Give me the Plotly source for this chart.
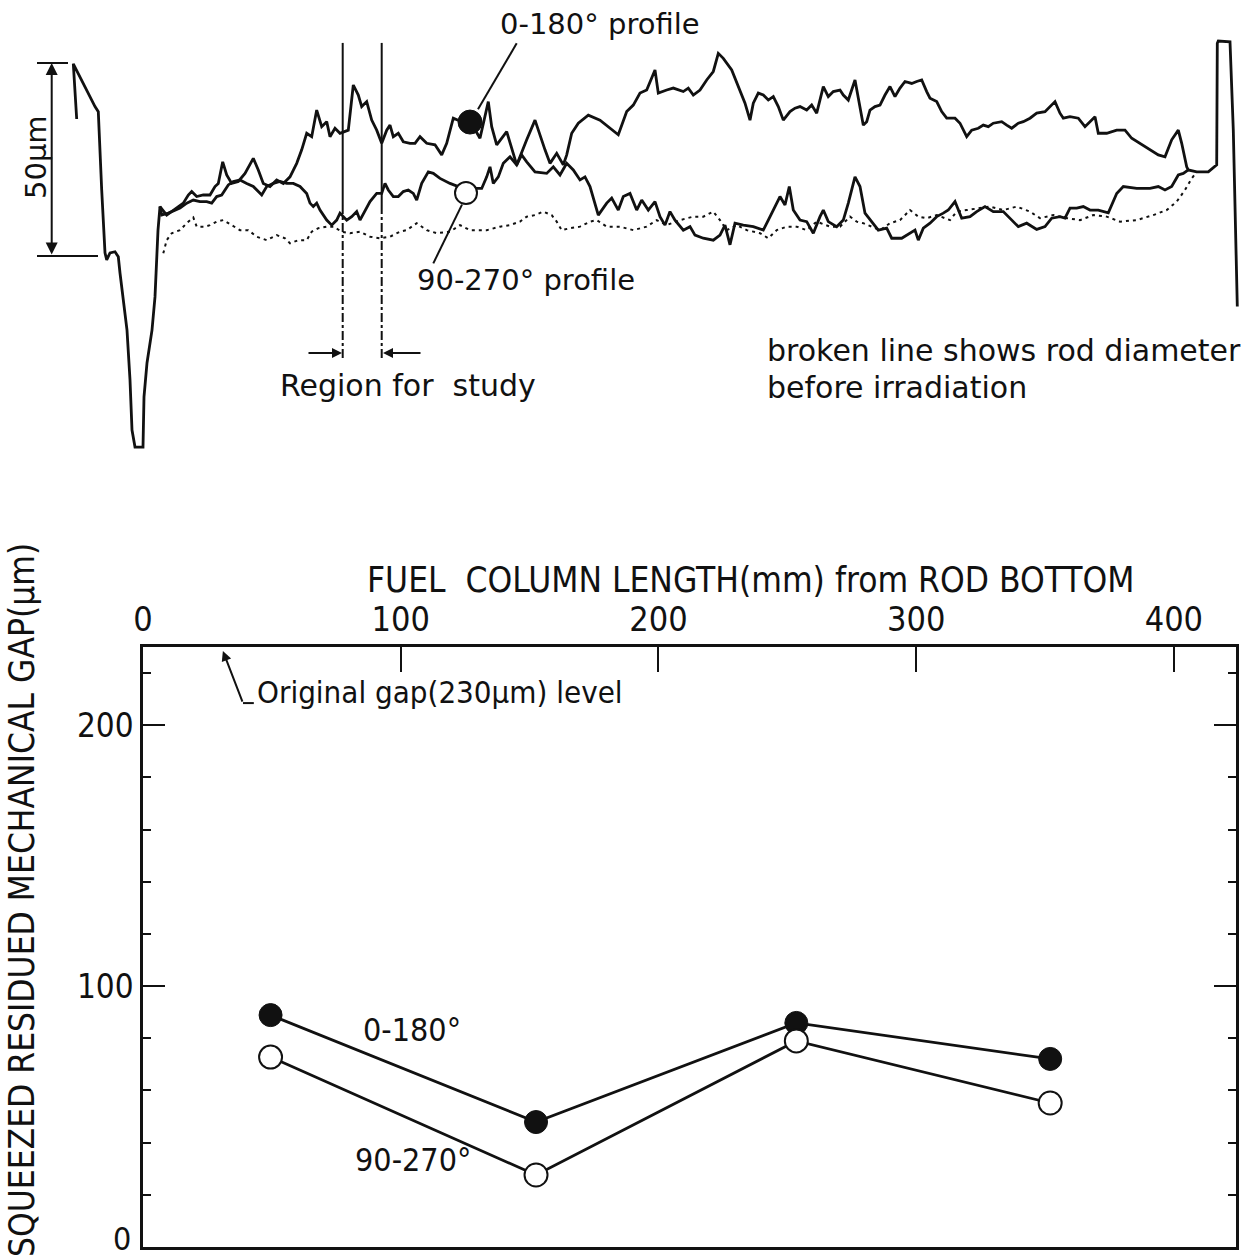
import plotly.graph_objects as go

W, H = 1252, 1259

# ---------------- lower chart data ----------------
position_mm = [49.5, 152.5, 253.5, 352.0]
gap_0_180 = [88.9, 47.9, 85.9, 72.1]
gap_90_270 = [72.8, 27.6, 79.0, 55.2]
x_ticks = [0, 100, 200, 300, 400]
y_ticks = [0, 100, 200]
y_tick_text = ["", "100", "200"]
y_minor = [20, 40, 60, 80, 120, 140, 160, 180, 220]
original_gap = 230

# ---------------- upper profile data (position, diameter change in um) ----------------
prof_0_180_pos = [
    76.7, 73.3, 95.0, 98.3, 101.7, 105.0, 106.7, 110.0, 115.0, 118.3,
    120.0, 127.0, 130.0, 132.0, 135.0, 143.0, 144.0, 147.0, 152.0, 155.0,
    158.0, 160.0, 166.7, 173.3, 183.3, 188.3, 191.7, 196.7, 203.3, 210.0,
    215.0, 218.3, 222.7, 226.7, 231.7, 238.3, 245.0, 253.3, 258.3, 263.3,
    270.0, 276.7, 283.3, 290.0, 296.7, 301.7, 306.7, 311.7, 316.7, 321.7,
    326.7, 330.0, 335.0, 340.0, 348.3, 353.3, 358.3, 361.7, 366.7, 371.7,
    376.7, 381.7, 386.7, 390.0, 393.3, 398.3, 403.3, 410.0, 415.0, 420.0,
    426.7, 435.0, 441.7, 446.7, 453.3, 461.7, 473.3, 480.0, 485.0, 488.3,
    491.7, 496.7, 506.7, 516.7, 526.7, 535.0, 545.0, 550.0, 556.7, 563.3,
    566.7, 571.7, 578.3, 588.3, 600.0, 618.3, 626.7, 633.3, 640.0, 646.7,
    655.0, 658.3, 666.7, 673.3, 683.3, 688.3, 693.3, 700.0, 706.7, 713.3,
    718.3, 723.3, 731.7, 740.0, 745.0, 750.0, 753.3, 758.3, 763.3, 768.3,
    773.3, 778.3, 783.3, 790.0, 795.0, 800.0, 806.7, 811.7, 816.7, 823.3,
    828.3, 833.3, 840.0, 843.3, 848.3, 855.0, 860.0, 863.3, 866.7, 870.0,
    875.0, 880.0, 885.0, 890.0, 895.0, 900.0, 905.0, 911.7, 916.7, 921.7,
    926.7, 930.0, 936.7, 941.7, 946.7, 955.0, 960.0, 966.7, 971.7, 978.3,
    983.3, 988.3, 993.3, 1001.7, 1006.7, 1011.7, 1018.3, 1023.3, 1030.0, 1036.7,
    1045.0, 1050.0, 1055.0, 1060.0, 1063.3, 1070.0, 1078.3, 1085.0, 1090.0, 1095.0,
    1098.3, 1106.7, 1116.7, 1125.0, 1131.7, 1141.7, 1150.0, 1158.3, 1165.0, 1171.7,
    1178.3, 1181.7, 1186.7, 1188.3, 1196.7, 1208.3, 1216.7, 1217.3, 1218.3, 1230.0,
    1233.3, 1237.3,
]
prof_0_180_um = [
    35.5, 49.8, 38.7, 37.4, 17.1, 0.8, -1.0, 0.8, 1.1, -0.2,
    -4.4, -19.2, -32.1, -45.1, -49.5, -49.5, -36.5, -27.7, -19.2, -10.6,
    6.7, 12.8, 10.6, 11.9, 13.7, 15.8, 16.7, 15.4, 15.8, 15.8,
    18.0, 18.8, 24.4, 21.0, 18.8, 19.3, 21.4, 25.3, 22.3, 18.8,
    18.0, 19.7, 18.8, 20.5, 24.0, 27.5, 31.8, 30.9, 37.8, 33.5,
    34.8, 30.9, 33.1, 31.8, 32.6, 44.3, 41.7, 38.7, 40.0, 35.2,
    32.6, 29.2, 32.6, 33.9, 30.9, 31.8, 29.6, 29.2, 29.2, 30.9,
    29.2, 28.8, 26.2, 29.2, 35.7, 34.8, 33.5, 30.5, 36.1, 40.0,
    33.5, 28.8, 32.2, 23.6, 30.1, 35.2, 27.5, 24.0, 26.6, 23.6,
    26.2, 31.8, 34.4, 36.5, 35.2, 31.4, 37.4, 39.1, 42.2, 43.0,
    48.2, 42.2, 43.0, 43.5, 42.6, 43.5, 41.7, 43.0, 45.6, 47.8,
    52.5, 51.2, 48.2, 43.0, 39.6, 35.2, 39.6, 42.2, 41.7, 40.4,
    41.3, 38.7, 35.2, 37.4, 38.3, 38.7, 37.8, 39.1, 37.0, 43.9,
    41.3, 42.6, 43.0, 41.7, 40.4, 45.6, 38.7, 33.9, 34.8, 37.8,
    38.7, 39.1, 41.7, 43.9, 41.3, 43.5, 45.2, 44.7, 45.2, 45.6,
    42.6, 40.9, 40.0, 37.4, 35.7, 35.7, 34.4, 30.9, 32.6, 33.1,
    33.9, 33.5, 34.4, 34.8, 33.9, 33.1, 34.4, 34.8, 35.7, 37.0,
    37.4, 38.7, 40.0, 37.0, 35.7, 36.1, 35.7, 33.5, 34.8, 36.1,
    31.8, 31.8, 32.6, 32.6, 30.5, 28.8, 27.5, 26.2, 25.7, 30.1,
    32.6, 29.2, 23.1, 22.3, 21.8, 21.8, 23.6, 55.1, 55.7, 55.5,
    32.6, -13.1,
]

prof_90_270_pos = [
    160.0, 161.7, 168.3, 175.0, 180.0, 186.7, 193.3, 200.0, 206.7, 211.7,
    216.7, 221.7, 225.0, 228.3, 233.3, 240.0, 246.7, 253.3, 258.3, 261.7,
    266.7, 273.3, 280.0, 286.7, 293.3, 300.0, 306.7, 310.0, 313.3, 316.7,
    320.0, 326.7, 331.7, 336.7, 340.0, 343.3, 346.7, 351.7, 356.7, 360.0,
    365.0, 370.0, 376.7, 381.7, 385.0, 388.3, 393.3, 398.3, 403.3, 408.3,
    413.3, 416.7, 421.7, 428.3, 433.3, 440.0, 450.0, 458.3, 470.0, 481.7,
    486.7, 490.0, 493.3, 498.3, 503.3, 510.0, 516.7, 521.7, 526.7, 535.0,
    546.7, 553.3, 560.0, 566.7, 573.3, 580.0, 585.0, 590.0, 598.3, 606.7,
    611.7, 618.3, 623.3, 630.0, 636.7, 641.7, 648.3, 655.0, 660.0, 665.0,
    670.0, 675.0, 683.3, 690.0, 695.0, 703.3, 713.3, 720.0, 725.0, 730.0,
    735.0, 743.3, 753.3, 763.3, 768.3, 775.0, 780.0, 785.0, 789.3, 793.3,
    800.0, 806.7, 813.3, 820.0, 823.3, 828.3, 836.7, 843.3, 848.3, 855.0,
    860.0, 865.0, 871.7, 878.3, 886.7, 891.7, 901.7, 910.0, 915.0, 918.3,
    923.3, 930.0, 936.7, 943.3, 948.3, 955.0, 961.7, 970.0, 976.7, 985.0,
    993.3, 1003.3, 1011.7, 1018.3, 1026.7, 1036.7, 1045.0, 1051.7, 1060.0, 1065.0,
    1070.0, 1076.7, 1083.3, 1090.0, 1098.3, 1108.3, 1116.7, 1123.3, 1136.7, 1150.0,
    1158.3, 1165.0, 1171.7, 1178.3, 1183.3, 1188.3,
]
prof_90_270_um = [
    12.8, 10.6, 11.1, 11.9, 12.4, 13.7, 14.5, 14.1, 14.1, 13.7,
    15.4, 15.8, 17.1, 18.4, 19.3, 19.7, 18.8, 18.0, 16.7, 15.8,
    18.0, 18.8, 19.3, 18.8, 18.8, 18.0, 16.2, 13.7, 12.8, 13.7,
    11.9, 9.3, 8.0, 9.3, 11.1, 10.2, 9.3, 10.2, 11.5, 9.3,
    11.9, 14.1, 16.2, 16.2, 18.8, 17.1, 15.4, 15.4, 16.7, 17.1,
    16.2, 14.5, 18.8, 21.8, 21.4, 20.1, 18.8, 18.0, 17.5, 17.5,
    20.5, 23.1, 18.8, 20.5, 24.0, 25.7, 23.6, 26.2, 24.4, 21.8,
    21.4, 23.1, 21.0, 24.0, 22.3, 19.7, 20.5, 18.0, 10.6, 13.7,
    15.0, 11.9, 15.4, 16.2, 11.9, 14.5, 11.9, 14.1, 10.2, 8.0,
    11.5, 9.3, 6.7, 7.6, 5.4, 4.6, 4.1, 5.4, 8.0, 2.9,
    8.5, 8.0, 7.6, 6.7, 9.3, 12.8, 15.4, 13.2, 18.0, 11.9,
    9.3, 8.9, 5.9, 10.2, 11.9, 8.9, 7.6, 9.3, 13.7, 20.5,
    18.0, 11.1, 8.9, 6.7, 7.2, 4.6, 4.6, 5.9, 6.7, 4.1,
    7.2, 8.5, 10.2, 11.1, 11.9, 14.1, 9.8, 10.2, 11.5, 12.8,
    11.5, 11.5, 9.3, 7.6, 8.5, 6.9, 7.6, 9.8, 10.2, 9.8,
    12.4, 12.4, 12.8, 11.9, 11.9, 11.2, 16.2, 18.0, 17.5, 17.5,
    18.0, 17.1, 18.0, 21.0, 21.4, 22.3,
]

prof_before_pos = [
    163.3, 166.7, 171.7, 180.0, 186.7, 193.3, 196.7, 205.0, 210.0, 216.7,
    223.3, 231.7, 240.0, 248.3, 256.7, 266.7, 276.7, 285.0, 290.0, 298.3,
    306.7, 311.7, 318.3, 326.7, 333.3, 341.7, 350.0, 360.0, 370.0, 380.0,
    390.0, 400.0, 406.7, 416.7, 426.7, 436.7, 450.0, 460.0, 470.0, 486.7,
    500.0, 510.0, 520.0, 526.7, 535.0, 543.3, 551.7, 556.7, 561.7, 570.0,
    580.0, 590.0, 596.7, 606.7, 620.0, 633.3, 646.7, 656.7, 666.7, 680.0,
    693.3, 703.3, 713.3, 720.0, 726.7, 736.7, 746.7, 760.0, 768.3, 776.7,
    786.7, 796.7, 806.7, 816.7, 830.0, 840.0, 850.0, 856.7, 863.3, 871.7,
    880.0, 890.0, 900.0, 910.0, 918.3, 926.7, 936.7, 950.0, 956.7, 966.7,
    980.0, 990.0, 1003.3, 1016.7, 1030.0, 1040.0, 1053.3, 1066.7, 1080.0, 1093.3,
    1106.7, 1120.0, 1136.7, 1153.3, 1166.7, 1176.7, 1185.0, 1191.7, 1196.7,
]
prof_before_um = [
    0.7, 4.1, 5.9, 6.7, 8.5, 10.0, 7.6, 7.6, 8.0, 8.9,
    9.3, 8.0, 6.7, 6.7, 5.0, 4.1, 5.4, 4.6, 3.3, 4.1,
    4.1, 6.3, 7.2, 7.6, 7.6, 6.3, 5.9, 6.3, 5.0, 4.6,
    5.0, 6.3, 6.7, 8.5, 6.7, 5.9, 6.3, 8.0, 6.7, 6.7,
    7.6, 8.0, 8.9, 10.2, 10.6, 11.5, 10.6, 8.9, 6.7, 7.2,
    7.6, 8.9, 9.3, 7.6, 7.6, 6.7, 7.6, 9.3, 8.0, 9.3,
    10.2, 10.2, 11.5, 9.3, 6.7, 8.0, 6.7, 5.9, 4.6, 6.7,
    7.6, 7.6, 6.7, 8.9, 7.6, 7.6, 10.2, 8.9, 8.5, 7.6,
    6.7, 8.5, 9.3, 11.9, 10.2, 9.8, 10.6, 9.3, 11.5, 11.9,
    12.4, 12.8, 11.9, 12.8, 11.5, 9.8, 10.6, 9.8, 9.3, 10.6,
    10.2, 8.9, 9.3, 10.6, 11.9, 14.1, 17.1, 20.1, 21.8,
]

# legend-marker positions on the profiles
marker_0_180 = (470.0, 34.7)
marker_90_270 = (466.0, 16.3)

FONT = "DejaVu Sans Condensed, DejaVu Sans, sans-serif"
FONT_UP = "DejaVu Sans, sans-serif"
BLACK = "#111111"


def px(x):
    return x / W


def py(y):
    return 1 - y / H


fig = go.Figure()

# ---- upper panel traces ----
fig.add_trace(go.Scatter(x=prof_before_pos, y=prof_before_um, mode="lines",
                         line=dict(color=BLACK, width=2, dash="3px,4px"),
                         xaxis="x2", yaxis="y2", hoverinfo="skip"))
fig.add_trace(go.Scatter(x=prof_90_270_pos, y=prof_90_270_um, mode="lines",
                         line=dict(color=BLACK, width=2.8),
                         xaxis="x2", yaxis="y2", hoverinfo="skip"))
fig.add_trace(go.Scatter(x=prof_0_180_pos, y=prof_0_180_um, mode="lines",
                         line=dict(color=BLACK, width=2.8),
                         xaxis="x2", yaxis="y2", hoverinfo="skip"))
fig.add_trace(go.Scatter(x=[marker_0_180[0]], y=[marker_0_180[1]], mode="markers",
                         marker=dict(size=24, color=BLACK, line=dict(color=BLACK, width=1)),
                         xaxis="x2", yaxis="y2", hoverinfo="skip"))
fig.add_trace(go.Scatter(x=[marker_90_270[0]], y=[marker_90_270[1]], mode="markers",
                         marker=dict(size=22, color="white", line=dict(color=BLACK, width=2)),
                         xaxis="x2", yaxis="y2", hoverinfo="skip"))

# ---- lower panel traces ----
fig.add_trace(go.Scatter(x=position_mm, y=gap_0_180, mode="lines+markers",
                         line=dict(color=BLACK, width=2.8),
                         marker=dict(size=23, color=BLACK, line=dict(color=BLACK, width=1)),
                         xaxis="x", yaxis="y", hoverinfo="skip"))
fig.add_trace(go.Scatter(x=position_mm, y=gap_90_270, mode="lines+markers",
                         line=dict(color=BLACK, width=2.8),
                         marker=dict(size=23, color="white", line=dict(color=BLACK, width=2)),
                         xaxis="x", yaxis="y", hoverinfo="skip"))

shapes = []
ln = dict(color=BLACK, width=2)
# region-for-study vertical lines
for xr in (342.7, 381.7):
    shapes.append(dict(type="line", xref="x2", yref="y2", x0=xr, x1=xr, y0=55.2, y1=13.2, line=ln))
    shapes.append(dict(type="line", xref="x2", yref="y2", x0=xr, x1=xr, y0=13.2, y1=-26.9,
                       line=dict(color=BLACK, width=2, dash="dashdot")))
# leader lines
shapes.append(dict(type="line", xref="x2", yref="y2", x0=516.7, y0=55.1, x1=478.0, y1=38.0, line=ln))
shapes.append(dict(type="line", xref="x2", yref="y2", x0=462.0, y0=13.3, x1=433.3, y1=-1.9, line=ln))
# 50 um scale bar ticks
shapes.append(dict(type="line", xref="x2", yref="y2", x0=37, x1=68, y0=50, y1=50, line=ln))
shapes.append(dict(type="line", xref="x2", yref="y2", x0=37, x1=98, y0=0, y1=0, line=ln))
# foot of the original-gap leader
shapes.append(dict(type="line", xref="x", yref="y", x0=38.8, x1=43.0, y0=208.5, y1=208.5, line=ln))

annotations = []
# scale bar double arrow
annotations.append(dict(x=51.7, y=50, ax=51.7, ay=0, xref="x2", yref="y2", axref="x2", ayref="y2",
                        showarrow=True, arrowside="end+start", arrowhead=2, arrowsize=1.2,
                        arrowwidth=2, arrowcolor=BLACK, text=""))
# region arrows
annotations.append(dict(x=342.0, y=-25.1, ax=307.0, ay=-25.1, xref="x2", yref="y2", axref="x2", ayref="y2",
                        showarrow=True, arrowhead=2, arrowsize=1, arrowwidth=2, arrowcolor=BLACK, text=""))
annotations.append(dict(x=383.0, y=-25.1, ax=422.0, ay=-25.1, xref="x2", yref="y2", axref="x2", ayref="y2",
                        showarrow=True, arrowhead=2, arrowsize=1, arrowwidth=2, arrowcolor=BLACK, text=""))
# original gap arrow
annotations.append(dict(x=31.0, y=228.5, ax=38.8, ay=208.5, xref="x", yref="y", axref="x", ayref="y",
                        showarrow=True, arrowhead=2, arrowsize=1, arrowwidth=2, arrowcolor=BLACK, text=""))


def txt(s, x, y, size, xanchor="left", angle=0, family=FONT):
    annotations.append(dict(text=s, x=px(x), y=py(y), xref="paper", yref="paper",
                            xanchor=xanchor, yanchor="middle", showarrow=False, textangle=angle,
                            font=dict(family=family, size=size, color=BLACK)))


txt("0-180° profile", 600, 24, 29, "center", family=FONT_UP)
txt("90-270° profile", 415, 280, 29, family=FONT_UP)
txt("Region for  study", 278, 385, 30, family=FONT_UP)
txt("broken line shows rod diameter", 765, 350, 30, family=FONT_UP)
txt("before irradiation", 765, 387, 30, family=FONT_UP)
txt("50µm", 36, 157, 29, "center", -90, family=FONT_UP)
txt("FUEL  COLUMN LENGTH(mm) from ROD BOTTOM", 751, 580, 35, "center")
txt("SQUEEZED RESIDUED MECHANICAL GAP(µm)", 22, 900, 35, "center", -90)
txt("Original gap(230µm) level", 255, 692, 31)
txt("0-180°", 412, 1030, 32, "center")
txt("90-270°", 413, 1160, 32, "center")
txt("0", 133, 1239, 32, "right")

fig.update_layout(
    template="none",
    width=W, height=H, margin=dict(l=0, r=0, t=0, b=0, pad=0),
    paper_bgcolor="white", plot_bgcolor="rgba(0,0,0,0)", showlegend=False,
    shapes=shapes, annotations=annotations,
    xaxis=dict(domain=[143 / W, 1236 / W], range=[0, 424.1], side="top", anchor="y",
               tickvals=x_ticks, ticks="inside", ticklen=25, tickwidth=2, tickcolor=BLACK,
               showline=True, linewidth=2.5, linecolor=BLACK, mirror=True,
               showgrid=False, zeroline=False, automargin=False,
               tickfont=dict(family=FONT, size=34, color=BLACK)),
    yaxis=dict(domain=[12 / H, 612 / H], range=[0, original_gap], anchor="x",
               tickvals=y_ticks, ticktext=y_tick_text, ticks="inside", ticklen=22, tickwidth=2,
               tickcolor=BLACK, showline=True, linewidth=2.5, linecolor=BLACK, mirror="ticks",
               showgrid=False, zeroline=False, automargin=False,
               minor=dict(tickvals=y_minor, ticks="inside", ticklen=8, tickwidth=2, tickcolor=BLACK),
               tickfont=dict(family=FONT, size=33, color=BLACK)),
    xaxis2=dict(domain=[0, 1], range=[0, W], anchor="y2", visible=False, automargin=False),
    yaxis2=dict(domain=[1 - 470 / H, 1], range=[-55.44, 66.32], anchor="x2", visible=False,
                automargin=False),
)

fig.write_html("out.html")
